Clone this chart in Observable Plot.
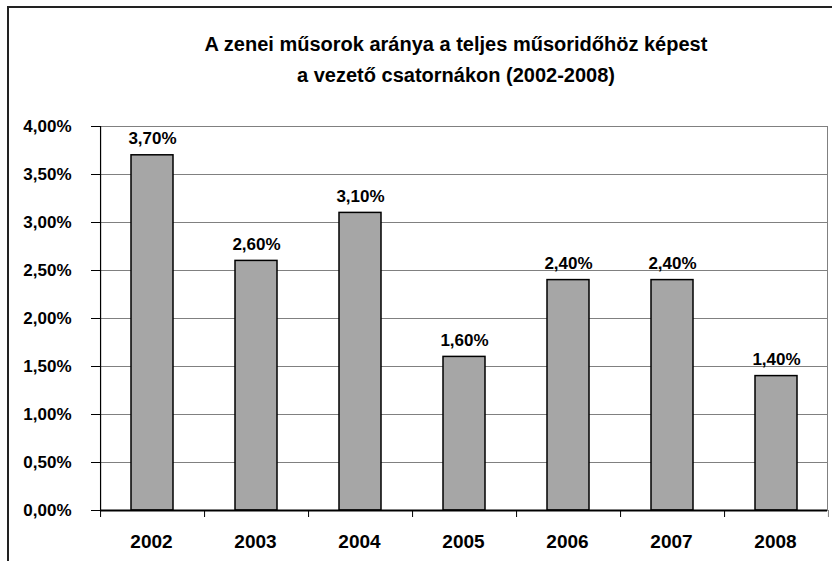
<!DOCTYPE html>
<html>
<head>
<meta charset="utf-8">
<script src="https://cdn.jsdelivr.net/npm/d3@7"></script>
<script src="https://cdn.jsdelivr.net/npm/@observablehq/plot@0.6"></script>
<style>
  html, body { margin: 0; padding: 0; background: #fff; }
  #wrap { position: relative; width: 832px; height: 561px; overflow: hidden; font-family: "Liberation Sans", Arial, sans-serif; }
  #border { position: absolute; left: 7px; top: 6px; width: 900px; height: 600px; border-left: 2px solid #222; border-top: 2px solid #222; pointer-events: none; }
  #title { position: absolute; left: 0; top: 0; width: 912px; height: 100px; text-align: center; font-weight: bold; font-size: 20px; line-height: 30.5px; padding-top: 29px; box-sizing: border-box; color: #000; }
  #chart { position: absolute; left: 0; top: 100px; }
</style>
</head>
<body>
<div id="wrap">
  <div id="title">A zenei műsorok aránya a teljes műsoridőhöz képest<br>a vezető csatornákon (2002-2008)</div>
  <div id="chart"></div>
  <div id="border"></div>
</div>
<script>
const years = ["2002", "2003", "2004", "2005", "2006", "2007", "2008"];
const shares = [3.7, 2.6, 3.1, 1.6, 2.4, 2.4, 1.4];
const yTicks = [0, 0.5, 1, 1.5, 2, 2.5, 3, 3.5, 4];

const data = years.map((y, i) => ({year: y, value: shares[i]}));
const fmt = (v) => v.toFixed(2).replace(".", ",") + "%";

const width = 832, height = 461;
const marginLeft = 100, marginRight = 5, marginTop = 26, marginBottom = 51;
const step = (width - marginLeft - marginRight) / years.length;

const chart = Plot.plot({
  width, height, marginLeft, marginRight, marginTop, marginBottom,
  style: {fontFamily: "'Liberation Sans', Arial, sans-serif", color: "#000", background: "#fff"},
  x: {domain: years, paddingInner: 0.6, paddingOuter: 0.29, label: null},
  y: {domain: [0, 4], label: null},
  marks: [
    Plot.gridY(yTicks.filter(d => d > 0), {stroke: "#808080", strokeOpacity: 1, strokeWidth: 1}),
    Plot.frame({anchor: "right", stroke: "#808080", strokeWidth: 1}),
    Plot.barY(data, {x: "year", y: "value", fill: "#a6a6a6", stroke: "#000", strokeWidth: 1.5}),
    Plot.ruleY([0], {stroke: "#000", strokeWidth: 2}),
    Plot.axisY({ticks: yTicks, tickFormat: fmt, tickSize: 9, tickPadding: 20, fontSize: 17, fontWeight: "bold", stroke: "#000", strokeOpacity: 1}),
    Plot.ruleX([0], {x: () => years[0], dx: -step / 2, y1: 0, y2: 4, stroke: "#000", strokeWidth: 1.2}),
    Plot.axisX({tickSize: 7, tickFormat: () => "", dx: -step / 2, stroke: "#000", strokeOpacity: 1}),
    Plot.axisX({ticks: [years[years.length - 1]], tickSize: 7, tickFormat: () => "", dx: step / 2, stroke: "#808080", strokeOpacity: 1}),
    Plot.axisX({tickSize: 0, tickPadding: 24, fontSize: 19, fontWeight: "bold", dx: -1}),
    Plot.text(data, {x: "year", y: "value", text: d => fmt(d.value), dy: -11, lineAnchor: "bottom", fontSize: 17, fontWeight: "bold", fill: "#000"})
  ]
});
document.getElementById("chart").appendChild(chart);
</script>
</body>
</html>
